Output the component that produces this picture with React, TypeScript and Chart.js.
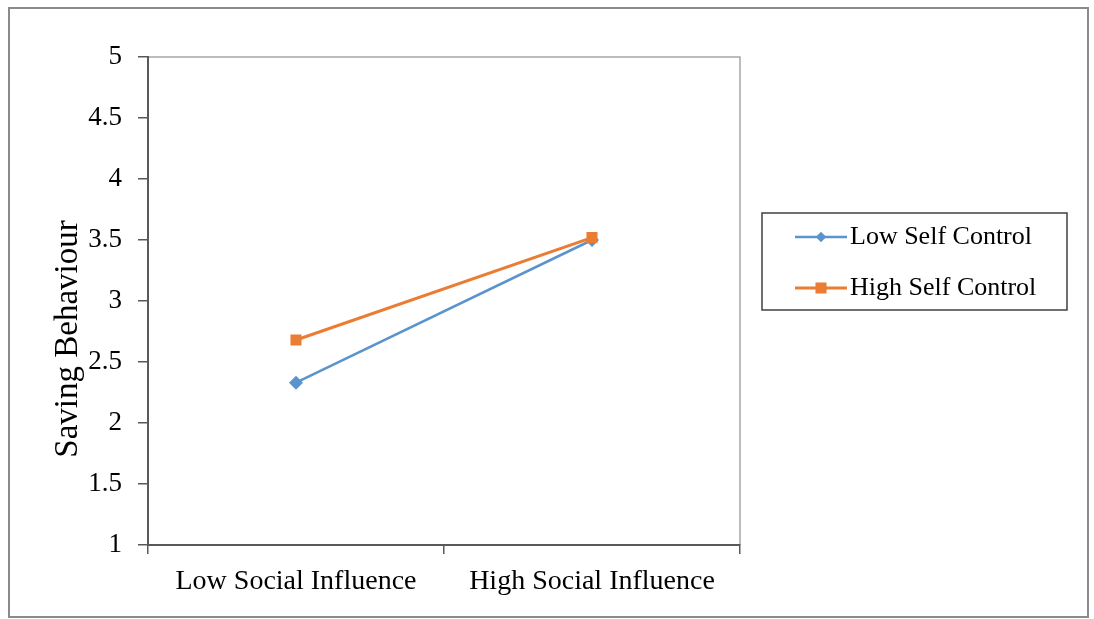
import React, { useEffect, useRef } from "react";
import { Chart, registerables } from "chart.js";

Chart.register(...registerables);

const categories = ["Low Social Influence", "High Social Influence"];
const seriesNames = ["Low Self Control", "High Self Control"];
const lowSelfControl = [2.33, 3.5];
const highSelfControl = [2.68, 3.52];
const yTicks = [1, 1.5, 2, 2.5, 3, 3.5, 4, 4.5, 5];
const yTitle = "Saving Behaviour";

const BLUE = "#5b93cc";
const ORANGE = "#ea7d33";
const AXIS = "#595959";
const FONT = "'Liberation Serif', 'Times New Roman', serif";

const framePlugin = {
  id: "frame",
  beforeDraw(chart: any) {
    const { ctx, chartArea } = chart;
    ctx.save();
    ctx.fillStyle = "#fff";
    ctx.fillRect(0, 0, chart.width, chart.height);
    ctx.strokeStyle = "#8a8a8a";
    ctx.lineWidth = 2;
    ctx.strokeRect(9, 8, 1079, 609);
    ctx.strokeStyle = "#a6a6a6";
    ctx.lineWidth = 1.5;
    ctx.beginPath();
    ctx.moveTo(chartArea.left, chartArea.top);
    ctx.lineTo(chartArea.right, chartArea.top);
    ctx.lineTo(chartArea.right, chartArea.bottom);
    ctx.stroke();
    // y axis title
    ctx.translate(77, 339);
    ctx.rotate(-Math.PI / 2);
    ctx.fillStyle = "#000";
    ctx.font = `33px ${FONT}`;
    ctx.textAlign = "center";
    ctx.textBaseline = "alphabetic";
    ctx.fillText(yTitle, 0, 0);
    ctx.restore();
  },
};

const legendPlugin = {
  id: "customLegend",
  afterDraw(chart: any) {
    const { ctx } = chart;
    const boxX = 762, boxY = 213, boxW = 305, boxH = 97;
    ctx.save();
    ctx.strokeStyle = "#404040";
    ctx.lineWidth = 1.5;
    ctx.strokeRect(boxX, boxY, boxW, boxH);
    const rows = [237, 288];
    chart.data.datasets.forEach((ds: any, i: number) => {
      const cy = rows[i];
      ctx.strokeStyle = ds.borderColor;
      ctx.lineWidth = ds.borderWidth;
      ctx.beginPath();
      ctx.moveTo(795, cy);
      ctx.lineTo(847, cy);
      ctx.stroke();
      ctx.fillStyle = ds.pointBackgroundColor;
      ctx.beginPath();
      if (ds.pointStyle === "rect") {
        const s = ds.pointRadius * Math.SQRT1_2;
        ctx.rect(821 - s, cy - s, 2 * s, 2 * s);
      } else {
        const r = ds.pointRadius * 0.75;
        ctx.moveTo(821, cy - r);
        ctx.lineTo(821 + r, cy);
        ctx.lineTo(821, cy + r);
        ctx.lineTo(821 - r, cy);
        ctx.closePath();
      }
      ctx.fill();
      ctx.fillStyle = "#000";
      ctx.font = `26px ${FONT}`;
      ctx.textBaseline = "middle";
      ctx.textAlign = "left";
      ctx.fillText(ds.label, 850, cy);
    });
    ctx.restore();
  },
};

export default function App() {
  const ref = useRef<HTMLCanvasElement | null>(null);
  useEffect(() => {
    if (!ref.current) return;
    const chart = new Chart(ref.current, {
      type: "line",
      data: {
        labels: categories,
        datasets: [
          {
            label: seriesNames[0],
            data: lowSelfControl,
            borderColor: BLUE,
            backgroundColor: BLUE,
            pointBackgroundColor: BLUE,
            pointBorderColor: BLUE,
            borderWidth: 2.5,
            pointStyle: "rectRot",
            pointRadius: 7,
            pointBorderWidth: 0,
            order: 1,
          } as any,
          {
            label: seriesNames[1],
            data: highSelfControl,
            borderColor: ORANGE,
            backgroundColor: ORANGE,
            pointBackgroundColor: ORANGE,
            pointBorderColor: ORANGE,
            borderWidth: 3,
            pointStyle: "rect",
            pointRadius: 7.8,
            pointBorderWidth: 0,
            order: 0,
          } as any,
        ],
      },
      options: {
        responsive: false,
        animation: false,
        layout: { padding: { top: 57, right: 354, left: 0, bottom: 0 } },
        plugins: { legend: { display: false }, tooltip: { enabled: false } },
        scales: {
          x: {
            type: "category",
            offset: true,
            grid: {
              offset: true,
              drawOnChartArea: false,
              drawTicks: true,
              tickLength: 9,
              color: AXIS,
              lineWidth: 1.5,
            },
            border: { color: AXIS, width: 2 },
            ticks: {
              font: { family: FONT, size: 28 },
              color: "#000",
              padding: 11,
              maxRotation: 0,
            },
            afterFit: (s: any) => {
              s.height = 74;
            },
          },
          y: {
            min: yTicks[0],
            max: yTicks[yTicks.length - 1],
            afterBuildTicks: (s: any) => {
              s.ticks = yTicks.map((v) => ({ value: v }));
            },
            grid: {
              drawOnChartArea: false,
              drawTicks: true,
              tickLength: 10,
              color: AXIS,
              lineWidth: 1.5,
            },
            border: { color: AXIS, width: 2 },
            ticks: {
              font: { family: FONT, size: 27 },
              color: "#000",
              padding: 16,
              callback: (v: any) => String(v),
            },
            title: { display: false },
            afterFit: (s: any) => {
              s.width = 148;
            },
          },
        },
      },
      plugins: [framePlugin, legendPlugin],
    });
    return () => chart.destroy();
  }, []);
  return (
    <div style={{ position: "absolute", left: 0, top: 0, width: 1094, height: 619 }}>
      <canvas ref={ref} width={1094} height={619} style={{ display: "block" }} />
    </div>
  );
}
